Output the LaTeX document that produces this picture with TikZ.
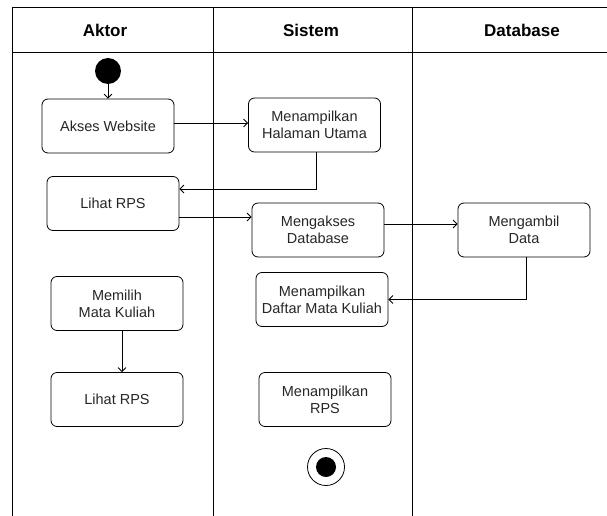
\documentclass[tikz,border=0pt]{standalone}
\usepackage{fontspec}
\setmainfont{Liberation Sans}
\usetikzlibrary{arrows, arrows.meta}

\begin{document}
\begin{tikzpicture}[x=1pt, y=-1pt, line width=0.8pt]
    \tikzstyle{act}  = [draw, rounded corners=6pt, minimum width=132pt, minimum height=54pt, inner sep=2pt, align=center, text=black!85, font=\fontsize{14.5}{17}\selectfont]
    \tikzstyle{tran} = [-{Straight Barb[length=4pt, width=8pt]}]
    \tikzstyle{jud}  = [font=\fontsize{17}{20}\selectfont\bfseries]

    \useasboundingbox (0,0) rectangle (607,516);

    % Gambar lajur dan judulnya.
    \draw (12,516) -- (12,7) -- (607,7);
    \draw (12,52) -- (607,52);
    \foreach \x in {213, 412}
        \draw (\x,7) -- (\x,516);
    \node[jud] (aktor)    at (105,30) {Aktor};
    \node[jud] (sistem)   at (311,30) {Sistem};
    \node[jud] (database) at (522,30) {Database};

    % Gambar aktivitas.
    \node[circle, fill, inner sep=0pt, minimum size=26pt] (mulai) at (108,71) {};
    \node[act] (akses)     at (108,126)   {Akses Website};
    \node[act] (halaman)   at (314.5,125) {Menampilkan\\Halaman Utama};
    \node[act] (lihat1)    at (113,203.5) {Lihat RPS};
    \node[act] (mengakses) at (318,230)   {Mengakses\\Database};
    \node[act] (mengambil) at (524,230)   {Mengambil\\Data};
    \node[act] (daftar)    at (322,299.5) {Menampilkan\\Daftar Mata Kuliah};
    \node[act] (memilih)   at (117,303.5) {Memilih\\Mata Kuliah};
    \node[act] (lihat2)    at (117,399.5) {Lihat RPS};
    \node[act] (tampilrps) at (325,399.5) {Menampilkan\\RPS};
    \node[circle, draw, inner sep=0pt, minimum size=37pt] (selesai) at (326,467) {};
    \node[circle, fill, inner sep=0pt, minimum size=20pt] (selesaiisi) at (selesai) {};

    % Gambar transisi.
    \draw[tran] (mulai) -- (akses);
    \draw[tran] ([yshift=3pt]akses.east) -- ([yshift=3pt]akses.east -| halaman.west);
    \draw[tran] ([xshift=1.5pt]halaman.south) |- ([yshift=14.5pt]lihat1.east);
    \draw[tran] ([yshift=-13.5pt]lihat1.east) -- ([yshift=-13.5pt]lihat1.east -| mengakses.west);
    \draw[tran] ([yshift=6pt]mengakses.east) -- ([yshift=6pt]mengakses.east -| mengambil.west);
    \draw[tran] ([xshift=2pt]mengambil.south) |- (daftar.east);
    \draw[tran] ([xshift=5pt]memilih.south) -- ([xshift=5pt]lihat2.north);

\end{tikzpicture}
\end{document}
